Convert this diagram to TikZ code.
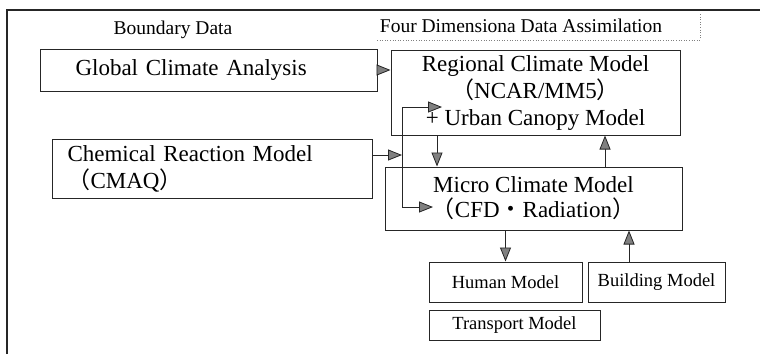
\documentclass[tikz,border=0pt]{standalone}
\usepackage{fontspec}
\setmainfont{Liberation Serif}
\newfontfamily\cjk{Noto Sans CJK JP}
\usetikzlibrary{arrows.meta,calc}
\begin{document}
\begin{tikzpicture}[x=1pt,y=-1pt,
  box/.style={draw=black!85,line width=1pt,inner sep=0pt,align=center},
  big/.style={font=\fontsize{23}{27}\selectfont},
  small/.style={font=\fontsize{18.5}{21}\selectfont},
  label/.style={font=\fontsize{19.5}{22}\selectfont},
  arr/.style={draw=black!85,line width=1pt,-{Triangle[length=14pt,width=11pt,fill=black!50,line width=0.8pt]}}]
\useasboundingbox (0,0) rectangle (760,354);
% frame
\draw[line width=1.4pt,black!85] (7,354) -- (7,10) -- (760,10);
% labels
\node[label] (bd) at (173,30) {Boundary Data};
\node[label] (fdda) at (521,26) {Four Dimensiona Data Assimilation};
\draw[dotted,line width=0.6pt,gray] (377,40) -- (700,40) -- (700,13);
% boxes
\node[box,big,anchor=west,text width=267pt,inner xsep=35pt,minimum height=42pt,align=left] (gca) at (40,70) {Global Climate Analysis};
\node[box,big,anchor=west,text width=290pt,inner xsep=15pt,minimum height=59pt,align=left] (crm) at (52,168.5) {Chemical Reaction Model\\{\cjk （}CMAQ{\cjk ）}};
\node[box,big,minimum width=289pt,minimum height=85pt] (rcm) at (535.5,92.5) {Regional Climate Model\\{\cjk （}NCAR/MM5{\cjk ）}\\+ Urban Canopy Model};
\node[box,big,minimum width=297pt,minimum height=63pt,font=\fontsize{23}{25}\selectfont] (mcm) at (533.5,198.5) {Micro Climate Model\\{\cjk （}CFD{\cjk ・}Radiation{\cjk ）}};
\node[box,small,minimum width=153pt,minimum height=40pt] (hum) at (505.5,282) {Human Model};
\node[box,small,minimum width=137pt,minimum height=40pt] (bld) at (656.5,282) {Building Model};
\node[box,small,minimum width=171pt,minimum height=30pt] (trn) at (514.5,325) {Transport Model};
% connectors
\draw[arr] (gca.east) -- (gca.east -| rcm.west);
\coordinate (j) at (402,155);
\coordinate (jt) at (442,107);
\coordinate (jb) at (433,207);
\draw[arr] (crm.east |- j) -- (j);
\draw[arr] (j) |- (jt);
\draw[arr] (j) |- (jb);
\coordinate (dx) at (437,0);
\coordinate (ux) at (605,0);
\coordinate (bx) at (629,0);
\draw[arr] (rcm.south -| dx) -- (mcm.north -| dx);
\draw[arr] (mcm.north -| ux) -- (rcm.south -| ux);
\draw[arr] (mcm.south -| hum.north) -- (hum.north);
\draw[arr] (bld.north -| bx) -- (mcm.south -| bx);
\end{tikzpicture}
\end{document}
